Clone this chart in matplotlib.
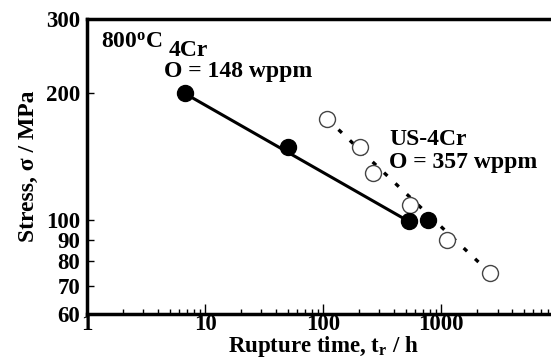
import numpy as np
import matplotlib
matplotlib.use("Agg")
import matplotlib.pyplot as plt

plt.rcParams['font.family'] = 'Liberation Serif'
plt.rcParams['font.weight'] = 'bold'
plt.rcParams['mathtext.fontset'] = 'custom'
plt.rcParams['mathtext.rm'] = 'Liberation Serif:bold'
plt.rcParams['mathtext.it'] = 'Liberation Serif:bold'
plt.rcParams['mathtext.default'] = 'rm'

# 4Cr, O = 148 wppm (filled)
t_4cr = [6.7, 50, 530, 770]
s_4cr = [200, 149, 99.5, 100]
# fit line for 4Cr
fit_4cr_t = [6.7, 530]
fit_4cr_s = [200, 99.5]

# US-4Cr, O = 357 wppm (open)
t_us = [108, 205, 265, 540, 1130, 2600]
s_us = [174, 149, 129.5, 109, 89.8, 75]
fit_us_t = [108, 2600]
fit_us_s = [174, 75]

yticks = [60, 70, 80, 90, 100, 200, 300]
xticks = [1, 10, 100, 1000]

fig = plt.figure(figsize=(5.51, 3.59), dpi=100)
ax = fig.add_axes([0.158, 0.1253, 0.857, 0.8217])

ax.plot(fit_4cr_t, fit_4cr_s, color='black', lw=2.2, zorder=2)
ax.plot(fit_us_t, fit_us_s, color='black', lw=2.4, ls=(0, (1.4, 3.3)), zorder=1)
ax.plot(t_us, s_us, 'o', ms=11.5, mfc='white', mec='#444444', mew=1.0, zorder=3)
ax.plot(t_4cr, s_4cr, 'o', ms=11.5, mfc='black', mec='black', zorder=4)

ax.set_xscale('log')
ax.set_yscale('log')
ax.set_xlim(1, 10000)
ax.set_ylim(60, 300)

ax.set_yticks(yticks)
ax.set_yticklabels([str(v) for v in yticks])
ax.yaxis.set_minor_locator(matplotlib.ticker.NullLocator())
ax.set_xticks(xticks)
ax.set_xticklabels([str(v) for v in xticks])

ax.tick_params(axis='both', which='major', direction='in', length=7, width=1,
               labelsize=16.5, pad=0)
ax.tick_params(axis='x', which='minor', direction='in', length=3.5, width=1)
ax.tick_params(axis='y', which='major', length=5, pad=5)
for lab in ax.get_xticklabels() + ax.get_yticklabels():
    lab.set_fontweight('bold')

for side in ['left', 'bottom', 'top']:
    ax.spines[side].set_linewidth(2.5)
ax.spines['right'].set_visible(False)

ax.set_xlabel('Rupture time, t$_{r}$ / h', fontsize=16.5, fontweight='bold', labelpad=-1)
ax.set_ylabel('Stress, σ / MPa', fontsize=17, fontweight='bold', labelpad=5)

ax.text(0.030, 0.922, '800$^{o}$C', transform=ax.transAxes, fontsize=17,
        fontweight='bold', va='center', ha='left')
ax.text(0.172, 0.893, '4Cr', transform=ax.transAxes, fontsize=17,
        fontweight='bold', va='center', ha='left')
ax.text(0.163, 0.822, 'O = 148 wppm', transform=ax.transAxes, fontsize=17,
        fontweight='bold', va='center', ha='left')
ax.text(0.640, 0.590, 'US-4Cr', transform=ax.transAxes, fontsize=17,
        fontweight='bold', va='center', ha='left')
ax.text(0.640, 0.515, 'O = 357 wppm', transform=ax.transAxes, fontsize=17,
        fontweight='bold', va='center', ha='left')

fig.savefig('out.png', dpi=100)
